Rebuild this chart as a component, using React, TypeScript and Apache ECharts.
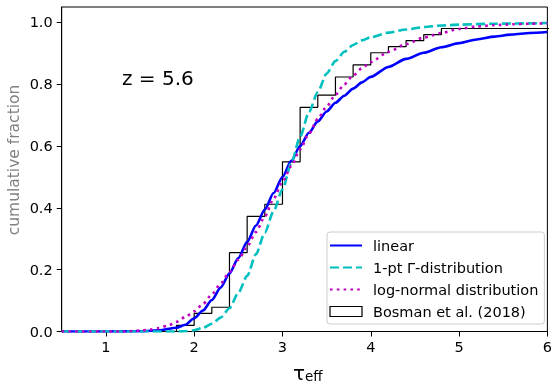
import React, { useEffect, useRef } from 'react';
import * as echarts from 'echarts';

const FONT = 'DejaVu Sans';

// linear model CDF
const linearX = [0.5, 1.0, 1.4, 1.6, 1.8, 1.9, 2.0, 2.1, 2.2, 2.3, 2.4, 2.5, 2.6, 2.7, 2.8, 2.9, 3.0, 3.1, 3.2, 3.3, 3.4, 3.5, 3.6, 3.7, 3.8, 3.9, 4.0, 4.2, 4.4, 4.6, 4.8, 5.0, 5.2, 5.4, 5.6, 5.8, 6.0];
const linearY = [0, 0, 0.001, 0.004, 0.012, 0.022, 0.043, 0.068, 0.102, 0.142, 0.188, 0.238, 0.29, 0.343, 0.395, 0.448, 0.5, 0.552, 0.6, 0.643, 0.68, 0.712, 0.74, 0.763, 0.786, 0.806, 0.824, 0.856, 0.882, 0.902, 0.92, 0.933, 0.945, 0.954, 0.961, 0.966, 0.969];

// 1-pt Gamma-distribution CDF
const gammaX = [0.5, 1.8, 1.9, 2.0, 2.1, 2.2, 2.3, 2.4, 2.5, 2.6, 2.7, 2.8, 2.9, 3.0, 3.1, 3.2, 3.3, 3.4, 3.5, 3.6, 3.7, 3.8, 3.9, 4.0, 4.2, 4.4, 4.6, 4.8, 5.0, 5.4, 6.0];
const gammaY = [0, 0, 0.001, 0.004, 0.012, 0.025, 0.045, 0.075, 0.125, 0.18, 0.25, 0.32, 0.39, 0.46, 0.545, 0.63, 0.71, 0.775, 0.835, 0.875, 0.905, 0.927, 0.942, 0.952, 0.967, 0.977, 0.985, 0.99, 0.993, 0.996, 0.998];

// log-normal distribution CDF
const lognormX = [0.5, 1.2, 1.4, 1.5, 1.6, 1.7, 1.8, 1.9, 2.0, 2.1, 2.2, 2.3, 2.4, 2.5, 2.6, 2.7, 2.8, 2.9, 3.0, 3.1, 3.2, 3.3, 3.4, 3.5, 3.6, 3.7, 3.8, 3.9, 4.0, 4.2, 4.4, 4.6, 4.8, 5.0, 5.2, 5.4, 5.6, 5.8, 6.0];
const lognormY = [0, 0, 0.003, 0.006, 0.011, 0.019, 0.031, 0.047, 0.065, 0.089, 0.12, 0.155, 0.192, 0.232, 0.275, 0.322, 0.372, 0.43, 0.485, 0.535, 0.59, 0.64, 0.688, 0.728, 0.766, 0.8, 0.828, 0.852, 0.872, 0.905, 0.93, 0.951, 0.966, 0.979, 0.987, 0.991, 0.994, 0.996, 0.997];

// Bosman et al. (2018) cumulative histogram: bin edges and cumulative fractions
const binEdges = [1.8, 2.0, 2.2, 2.4, 2.6, 2.8, 3.0, 3.2, 3.4, 3.6, 3.8, 4.0, 4.2, 4.4, 4.6, 4.8, 6.5];
const cumFrac = [0.0196, 0.0588, 0.0784, 0.2549, 0.3725, 0.4118, 0.549, 0.7255, 0.7647, 0.8235, 0.8627, 0.902, 0.9216, 0.9412, 0.9608, 0.9804];

const xTicks = [1, 2, 3, 4, 5, 6];
const yTicks = [0, 0.2, 0.4, 0.6, 0.8, 1.0];

const zip = (xs: number[], ys: number[]) => xs.map((x, i) => [x, ys[i]]);

function stepPoints() {
  const pts: number[][] = [];
  let prev = 0;
  for (let i = 0; i < cumFrac.length; i++) {
    pts.push([binEdges[i], prev]);
    pts.push([binEdges[i], cumFrac[i]]);
    prev = cumFrac[i];
  }
  pts.push([binEdges[binEdges.length - 1], prev]);
  pts.push([binEdges[binEdges.length - 1], 0]);
  return pts;
}

const noSymbol = { color: 'transparent', borderColor: 'transparent', borderWidth: 0, opacity: 0 };

export default function App() {
  const ref = useRef<HTMLDivElement>(null);
  useEffect(() => {
    const chart = echarts.init(ref.current!, null, { renderer: 'svg' });
    const option: any = {
      animation: false,
      textStyle: { fontFamily: FONT },
      grid: {
        left: 61.7, right: 2.7, top: 7, bottom: 53.5,
        show: true, borderColor: '#000', borderWidth: 1, backgroundColor: 'transparent',
      },
      xAxis: {
        type: 'value', min: 0.5, max: 6,
        axisLine: { show: true, lineStyle: { color: '#000', width: 1 } },
        axisTick: { show: true, length: 5, customValues: xTicks, lineStyle: { color: '#000' } },
        axisLabel: { customValues: xTicks, fontSize: 14.5, color: '#000', margin: 8, fontFamily: FONT },
        splitLine: { show: false },
      },
      yAxis: {
        type: 'value', min: 0, max: 1.05,
        axisLine: { show: true, lineStyle: { color: '#000', width: 1 } },
        axisTick: { show: true, length: 5, customValues: yTicks, lineStyle: { color: '#000' } },
        axisLabel: {
          customValues: yTicks, fontSize: 14.5, color: '#000', margin: 9, fontFamily: FONT,
          formatter: (v: number) => v.toFixed(1),
        },
        splitLine: { show: false },
      },
      legend: {
        orient: 'vertical', left: 327, top: 232,
        padding: [6, 6, 5, 2], itemWidth: 32, itemHeight: 10, itemGap: 7,
        backgroundColor: 'rgba(255,255,255,0.8)', borderColor: '#cccccc', borderWidth: 1, borderRadius: 3,
        textStyle: { fontSize: 14.5, fontFamily: FONT, color: '#000', padding: [0, 0, 0, 6] },
        data: [
          { name: 'linear', itemStyle: noSymbol },
          { name: '1-pt Γ-distribution', itemStyle: noSymbol },
          { name: 'log-normal distribution', itemStyle: noSymbol },
          { name: 'Bosman et al. (2018)', icon: 'rect', itemStyle: { color: '#ffffff', borderColor: '#000', borderWidth: 1.2 } },
        ],
      },
      series: [
        {
          type: 'line', name: 'Bosman et al. (2018)', data: stepPoints(), symbol: 'none', z: 2,
          lineStyle: { color: '#000', width: 1.2 }, itemStyle: { color: '#000' },
        },
        {
          type: 'line', name: 'linear', data: zip(linearX, linearY), symbol: 'none', z: 3,
          smooth: 0.25, smoothMonotone: 'x',
          lineStyle: { color: '#0000ff', width: 2.6 }, itemStyle: { color: '#0000ff' },
        },
        {
          type: 'line', name: '1-pt Γ-distribution', data: zip(gammaX, gammaY), symbol: 'none', z: 3,
          smooth: 0.25, smoothMonotone: 'x',
          lineStyle: { color: '#00bfbf', width: 2.6, type: [9, 4] }, itemStyle: { color: '#00bfbf' },
        },
        {
          type: 'line', name: 'log-normal distribution', data: zip(lognormX, lognormY), symbol: 'none', z: 3,
          smooth: 0.25, smoothMonotone: 'x',
          lineStyle: { color: '#bf00bf', width: 2.6, type: [2.6, 4.2] }, itemStyle: { color: '#bf00bf' },
        },
      ],
      graphic: [
        {
          type: 'text', x: 122, y: 78,
          style: { text: 'z = 5.6', fontSize: 20, fontFamily: FONT, fill: '#000', align: 'left', verticalAlign: 'middle' },
        },
        {
          type: 'text', x: 14, y: 160, rotation: Math.PI / 2,
          style: { text: 'cumulative fraction', fontSize: 15.5, fontFamily: FONT, fill: '#808080', align: 'center', verticalAlign: 'middle' },
        },
        {
          type: 'text', x: 293, y: 373,
          style: { text: 'τ', fontSize: 20, fontFamily: FONT, fill: '#000', align: 'left', verticalAlign: 'middle' },
        },
        {
          type: 'text', x: 305, y: 375.5,
          style: { text: 'eff', fontSize: 13.5, fontFamily: FONT, fill: '#000', align: 'left', verticalAlign: 'middle' },
        },
      ],
    };
    chart.setOption(option);
    return () => chart.dispose();
  }, []);
  return <div ref={ref} style={{ position: 'fixed', left: 0, top: 0, width: 555, height: 385 }} />;
}
